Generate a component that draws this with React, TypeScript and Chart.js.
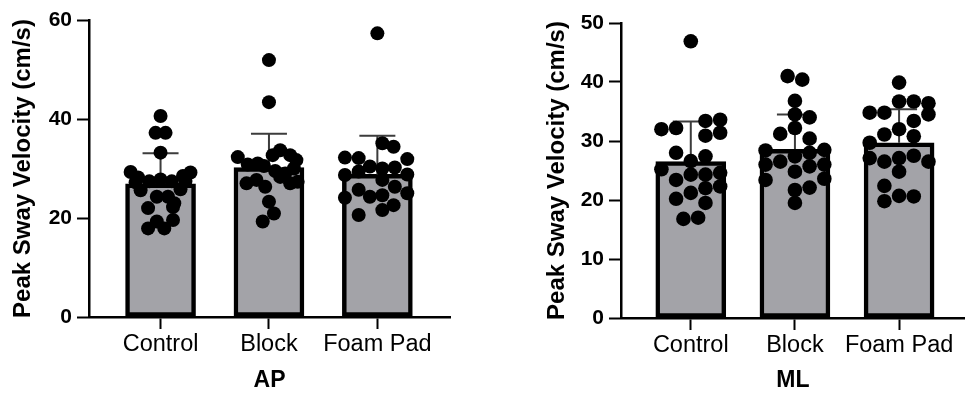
import React, { useEffect, useRef } from 'react';
import { Chart, registerables } from 'chart.js';

Chart.register(...registerables);

const categories = ['Control', 'Block', 'Foam Pad'];

// ---- AP panel ----
const apMeans = [26.9, 30.2, 28.8];
const apSD = [6.2, 6.8, 7.8];
const apControl = [40.6, 37.2, 37.2, 33.2, 29.3, 29.2, 28.5, 28.2, 27.4, 27.8, 27.4, 25.6, 25.8, 24.3, 24.3, 23.0, 22.0, 22.2, 19.3, 19.6, 17.9, 17.9, 27.2, 27.5];
const apControlJitter = [0, -0.4, 0.4, 0, -2.4, 2.4, 1.8, -1.8, -0.9, 0, 0.9, -1.6, 1.6, -0.3, 0.6, 1.1, -1.0, 1.0, -0.3, 1.0, -1.0, 0.3, -2.0, 2.0];
const apBlock = [51.9, 43.4, 32.3, 33.7, 32.7, 32.7, 31.7, 31.0, 30.8, 30.0, 27.0, 27.7, 26.3, 28.3, 27.0, 27.3, 23.3, 20.9, 19.3, 29.5, 30.5, 29.0];
const apBlockJitter = [0, 0, -2.5, 0.9, 0.3, 1.7, 2.2, -0.9, -1.7, 2.0, -1.8, -1.0, -0.3, 0.9, 1.7, 2.3, 0, 0.4, -0.5, 0.5, -0.4, 1.3];
const apFoam = [57.3, 35.1, 34.4, 32.2, 32.1, 31.9, 30.4, 30.0, 30.2, 28.7, 29.4, 28.8, 27.7, 26.3, 25.7, 24.1, 24.3, 24.6, 25.0, 22.6, 21.6, 20.6];
const apFoamJitter = [0, 0.4, 1.3, -2.6, -1.5, 2.4, -0.6, 0.4, 1.4, -2.6, -1.5, 2.4, 0.4, 1.4, -1.5, -2.6, -0.6, 0.4, 2.4, 1.3, 0.4, -1.5];

// ---- ML panel ----
const mlMeans = [26.5, 28.6, 29.7];
const mlSD = [6.8, 5.9, 5.7];
const mlControl = [46.9, 32.0, 32.2, 33.4, 33.6, 30.9, 31.4, 28.0, 26.6, 27.4, 25.2, 23.4, 24.3, 24.3, 24.6, 22.0, 22.3, 20.2, 21.2, 19.5, 16.8, 17.0];
const mlControlJitter = [0, -2, -1, 1, 2, 1, 2, -1, 0, 1, -2, -1, 0, 1, 2, 1, 2, -1, 0, 1, -0.5, 0.5];
const mlBlock = [41.0, 40.4, 36.8, 34.5, 34.0, 31.2, 32.2, 30.4, 28.4, 28.5, 26.5, 27.4, 28.0, 26.0, 26.0, 24.8, 25.7, 23.4, 23.6, 21.7, 22.1, 19.5];
const mlBlockJitter = [-0.5, 0.5, 0, 0, 1, -1, 0, 1, -2, 2, -1, 0, 1, -2, 2, 0, 1, -2, 2, 0, 1, 0];
const mlFoam = [39.9, 36.7, 36.7, 36.4, 34.8, 34.8, 34.5, 33.4, 32.0, 31.1, 30.8, 29.7, 27.1, 26.5, 27.1, 27.5, 26.5, 24.8, 22.4, 19.8, 20.7, 20.6];
const mlFoamJitter = [0, 0, 1, 2, -2, -1, 2, 1, 0, -1, 1, -2, -2, -1, 0, 1, 2, 0, -1, -1, 0, 1];

const FONT = "'Liberation Sans', Arial, Helvetica, sans-serif";

type PanelProps = {
  title: string;
  means: number[];
  sd: number[];
  groups: number[][];
  jitters: number[][];
  yMax: number;
  yStep: number;
  left: number;
  axisX: number;
  top: number;
  bottom: number;
  rightPad: number;
  xMin: number;
  xMax: number;
  jitterStep: number;
  titleOffset: number;
  pointRadius: number;
};

function Panel(p: PanelProps) {
  const ref = useRef<HTMLCanvasElement | null>(null);
  useEffect(() => {
    if (!ref.current) return;
    const errorBars = {
      id: 'errorBars',
      afterDatasetDraw(chart: any, args: any) {
        if (args.index !== 0) return;
        const { ctx } = chart;
        const ys = chart.scales.y;
        ctx.save();
        ctx.strokeStyle = '#3c3c3c';
        ctx.lineWidth = 2;
        args.meta.data.forEach((el: any, i: number) => {
          const x = el.x;
          const yMean = el.y;
          const yTop = ys.getPixelForValue(p.means[i] + p.sd[i]);
          ctx.beginPath();
          ctx.moveTo(x, yMean);
          ctx.lineTo(x, yTop);
          ctx.moveTo(x - 18, yTop);
          ctx.lineTo(x + 18, yTop);
          ctx.stroke();
        });
        ctx.restore();
      },
    };
    const dots: { x: number; y: number }[] = [];
    p.groups.forEach((vals, g) => {
      vals.forEach((v, k) => dots.push({ x: g + p.jitters[g][k] * p.jitterStep, y: v }));
    });
    const chart = new Chart(ref.current, {
      type: 'bar',
      data: {
        datasets: [
          {
            type: 'bar',
            data: p.means.map((m, i) => ({ x: i, y: m })),
            backgroundColor: '#a3a3a8',
            borderColor: '#000',
            borderWidth: 4.5,
            borderSkipped: false,
            barThickness: 70,
            order: 2,
          } as any,
          {
            type: 'scatter',
            data: dots,
            backgroundColor: '#000',
            borderWidth: 0,
            pointRadius: p.pointRadius,
            showLine: false,
            order: 1,
          } as any,
        ],
      },
      options: {
        responsive: false,
        animation: false,
        layout: { padding: { left: 0, top: p.top, right: p.rightPad, bottom: 0 } },
        plugins: { legend: { display: false }, tooltip: { enabled: false } },
        scales: {
          x: {
            type: 'linear',
            min: p.xMin,
            max: p.xMax,
            offset: false,
            afterBuildTicks: (s: any) => {
              s.ticks = categories.map((_, i) => ({ value: i }));
            },
            afterFit: (s: any) => {
              s.height = 398 - p.bottom;
            },
            grid: {
              offset: false,
              drawOnChartArea: false,
              drawTicks: true,
              tickLength: 12,
              tickWidth: 2,
              color: '#000',
            },
            border: { display: true, color: '#000', width: 2.5 },
            ticks: {
              autoSkip: false,
              maxRotation: 0,
              padding: 1,
              color: '#000',
              font: { family: FONT, size: 23.5 },
              callback: (v: any) => categories[Number(v)] ?? '',
            },
            title: {
              display: true,
              text: p.title,
              color: '#000',
              font: { family: FONT, size: 23, weight: 'bold', lineHeight: 1 },
              padding: { top: 0, bottom: 6 },
            },
          } as any,
          y: {
            type: 'linear',
            min: 0,
            max: p.yMax,
            afterFit: (s: any) => {
              s.width = p.axisX;
            },
            grid: {
              drawOnChartArea: false,
              drawTicks: true,
              tickLength: 12,
              tickWidth: 2,
              color: '#000',
            },
            border: { display: true, color: '#000', width: 2.5 },
            ticks: {
              stepSize: p.yStep,
              padding: 5,
              color: '#000',
              font: { family: FONT, size: 21, weight: 'bold' },
            },
            title: {
              display: true,
              text: 'Peak Sway Velocity (cm/s)',
              color: '#000',
              font: { family: FONT, size: 24, weight: 'bold', lineHeight: 1 },
              padding: { top: p.titleOffset, bottom: 0 },
            },
          } as any,
        },
      } as any,
      plugins: [errorBars as any],
    });
    return () => chart.destroy();
  }, []);
  return (
    <canvas
      ref={ref}
      width={486}
      height={398}
      style={{ position: 'absolute', left: p.left, top: 0, width: 486, height: 398, display: 'block' }}
    />
  );
}

export default function App() {
  return (
    <div style={{ position: 'fixed', left: 0, top: 0, width: 972, height: 398, background: '#fff', overflow: 'hidden' }}>
      <Panel
        title="AP"
        means={apMeans}
        sd={apSD}
        groups={[apControl, apBlock, apFoam]}
        jitters={[apControlJitter, apBlockJitter, apFoamJitter]}
        yMax={60}
        yStep={20}
        left={0}
        axisX={89}
        top={20}
        bottom={317}
        rightPad={36}
        xMin={-0.66}
        xMax={2.67}
        jitterStep={0.115}
        titleOffset={11}
        pointRadius={7}
      />
      <Panel
        title="ML"
        means={mlMeans}
        sd={mlSD}
        groups={[mlControl, mlBlock, mlFoam]}
        jitters={[mlControlJitter, mlBlockJitter, mlFoamJitter]}
        yMax={50}
        yStep={10}
        left={486}
        axisX={135}
        top={23}
        bottom={318}
        rightPad={0}
        xMin={-0.67}
        xMax={2.63}
        jitterStep={0.141}
        titleOffset={59}
        pointRadius={7.3}
      />
    </div>
  );
}
